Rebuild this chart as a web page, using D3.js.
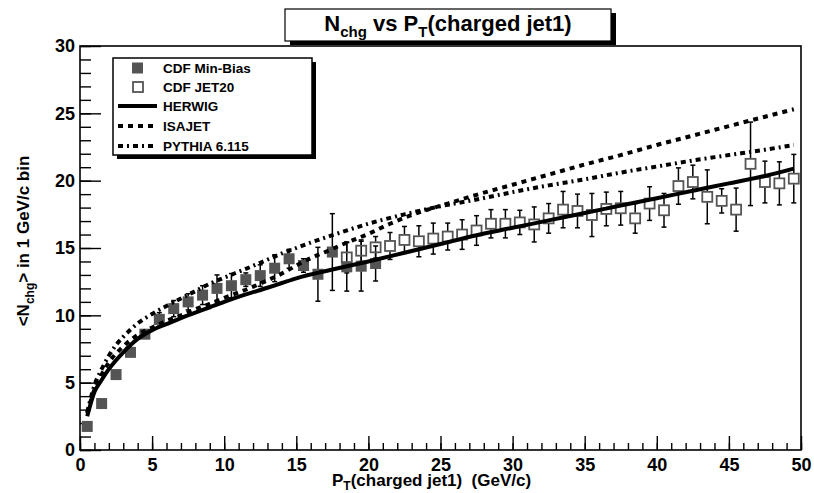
<!DOCTYPE html>
<html>
<head>
<meta charset="utf-8">
<script src="https://cdn.jsdelivr.net/npm/d3@7"></script>
<style>
  body { margin: 0; background: #fff; }
  text { font-family: "Liberation Sans", Arial, Helvetica, sans-serif; font-weight: bold; }
</style>
</head>
<body>
<div id="chart"></div>
<script>
// CDF Min-Bias (filled squares)
var mbX   = [0.5, 1.5, 2.5, 3.5, 4.5, 5.5, 6.5, 7.5, 8.5, 9.5, 10.5, 11.5, 12.5, 13.5, 14.5, 15.5, 16.5, 17.5, 18.5, 19.5, 20.5];
var mbY   = [1.75, 3.45, 5.6, 7.25, 8.6, 9.7, 10.5, 11.0, 11.5, 12.0, 12.2, 12.65, 12.95, 13.5, 14.2, 13.7, 13.05, 14.7, 13.6, 13.65, 13.85];
var mbErr = [0.1, 0.15, 0.2, 0.2, 0.3, 0.5, 0.6, 0.6, 0.7, 1.0, 0.9, 0.5, 0.8, 1.0, 0.7, 0.5, 2.0, 2.85, 1.8, 1.85, 1.3];

// CDF JET20 (open squares)
var jetX   = [18.5, 19.5, 20.5, 21.5, 22.5, 23.5, 24.5, 25.5, 26.5, 27.5, 28.5, 29.5, 30.5, 31.5, 32.5, 33.5,
              34.5, 35.5, 36.5, 37.5, 38.5, 39.5, 40.5, 41.5, 42.5, 43.5, 44.5, 45.5, 46.5, 47.5, 48.5, 49.5];
var jetY   = [14.3, 14.8, 15.05, 15.15, 15.6, 15.5, 15.7, 15.85, 16.0, 16.3, 16.8, 16.8, 16.9, 16.75, 17.2, 17.85,
              17.75, 17.45, 17.9, 17.95, 17.2, 18.3, 17.8, 19.6, 19.9, 18.8, 18.5, 17.85, 21.25, 19.9, 19.8, 20.15];
var jetErr = [1.15, 0.8, 0.8, 1.0, 1.0, 1.15, 1.15, 1.0, 1.1, 1.1, 1.05, 1.05, 0.9, 1.3, 1.1, 1.35,
              1.25, 1.6, 1.25, 1.25, 1.1, 1.25, 1.25, 1.35, 1.25, 2.0, 0.9, 1.6, 3.1, 1.55, 1.6, 1.8];

// Monte Carlo curves
var herwigX = [0.5, 1, 1.5, 2, 3, 4, 5, 6, 7, 8, 9, 10, 11.5, 13, 14, 15, 17.5, 20, 22.5, 25, 27.5, 30, 32.5, 35, 37.5, 40, 42.5, 45, 47.5, 49.5];
var herwigY = [2.5, 4.3, 5.2, 6.0, 7.25, 8.25, 8.9, 9.35, 9.8, 10.2, 10.6, 11.0, 11.55, 12.05, 12.4, 12.75, 13.4, 14.0, 14.65, 15.3, 15.95, 16.5, 17.05, 17.6, 18.15, 18.7, 19.25, 19.8, 20.35, 20.9];

var isajetX = [0.5, 1, 1.5, 2, 3, 4, 5, 6, 7, 8, 9, 10, 11.5, 13, 14, 15, 16, 17, 18.5, 20, 21.5, 23, 25.5, 27.5, 30, 32.5, 35, 37.5, 40, 42.5, 45, 47.5, 49.5];
var isajetY = [2.7, 4.5, 5.6, 6.5, 7.7, 8.55, 9.1, 9.6, 10.0, 10.45, 10.85, 11.3, 11.9, 12.6, 13.1, 13.7, 14.25, 14.7, 15.4, 16.05, 16.8, 17.45, 18.3, 18.95, 19.7, 20.45, 21.2, 21.9, 22.65, 23.35, 24.05, 24.75, 25.3];

var pythiaX = [0.5, 1, 1.5, 2, 2.5, 3, 4, 5, 6, 7, 8, 9, 10, 11.5, 12.5, 14, 15, 16, 17.5, 20, 22.5, 25, 27.5, 30, 32.5, 35, 37.5, 40, 42.5, 45, 47.5, 49.5];
var pythiaY = [2.8, 4.8, 6.0, 7.0, 7.8, 8.4, 9.4, 10.1, 10.7, 11.25, 11.8, 12.35, 12.8, 13.45, 13.9, 14.6, 15.0, 15.4, 15.95, 16.8, 17.5, 18.1, 18.6, 19.15, 19.65, 20.1, 20.6, 21.05, 21.5, 21.9, 22.3, 22.65];

var xTicks = [0, 5, 10, 15, 20, 25, 30, 35, 40, 45, 50];
var yTicks = [0, 5, 10, 15, 20, 25, 30];

var W = 814, H = 493;
var frame = {left: 80, right: 801, top: 46, bottom: 450};

var svg = d3.select("#chart").append("svg")
	.attr("width", W)
	.attr("height", H);

var x = d3.scaleLinear().domain([0, 50]).range([frame.left, frame.right]);
var y = d3.scaleLinear().domain([0, 30]).range([frame.bottom, frame.top]);

// frame
svg.append("rect")
	.attr("x", frame.left).attr("y", frame.top)
	.attr("width", frame.right - frame.left).attr("height", frame.bottom - frame.top)
	.style("fill", "none").style("stroke", "#000").style("stroke-width", 1.6);

// axes: minor ticks then major ticks with labels
svg.append("g")
	.attr("transform", "translate(0," + frame.bottom + ")")
	.call(d3.axisBottom(x).tickValues(d3.range(0, 51, 1)).tickSize(-7).tickFormat(""))
	.call(g => g.select(".domain").remove());
svg.append("g")
	.attr("class", "xaxis")
	.attr("transform", "translate(0," + frame.bottom + ")")
	.call(d3.axisBottom(x).tickValues(xTicks).tickSize(-14).tickPadding(8).tickFormat(d3.format("d")))
	.call(g => g.select(".domain").remove());

svg.append("g")
	.attr("transform", "translate(" + frame.left + ",0)")
	.call(d3.axisLeft(y).tickValues(d3.range(0, 31, 1)).tickSize(-11).tickFormat(""))
	.call(g => g.select(".domain").remove());
svg.append("g")
	.attr("class", "yaxis")
	.attr("transform", "translate(" + frame.left + ",0)")
	.call(d3.axisLeft(y).tickValues(yTicks).tickSize(-21).tickPadding(5).tickFormat(d3.format("d")))
	.call(g => g.select(".domain").remove());

svg.selectAll(".tick line").style("stroke", "#000").style("stroke-width", 1.4);
svg.selectAll(".xaxis text, .yaxis text")
	.style("font-family", "'Liberation Sans', Arial, sans-serif")
	.style("font-weight", "bold")
	.style("font-size", "18px")
	.attr("fill", "#000");

// axis titles
var xt = svg.append("text")
	.attr("x", 332).attr("y", 486)
	.style("font-size", "17px")
	.attr("xml:space", "preserve");
xt.append("tspan").text("P");
xt.append("tspan").attr("dy", 4).style("font-size", "12px").text("T");
xt.append("tspan").attr("dy", -4).text("(charged jet1)  (GeV/c)");

var yt = svg.append("text")
	.attr("transform", "translate(29,241) rotate(-90)")
	.attr("text-anchor", "middle")
	.style("font-size", "17px");
yt.append("tspan").text("<N");
yt.append("tspan").attr("dy", 5).style("font-size", "12px").text("chg");
yt.append("tspan").attr("dy", -5).text("> in 1 GeV/c bin");

// error bars
var cap = 2.5;
function errorBars(cls, xs, ys, es, half) {
	var pts = xs.map(function(d, i) { return {x: d, y: ys[i], e: es[i]}; });
	var g = svg.append("g").attr("class", cls);
	pts.forEach(function(p) {
		var cx = x(p.x), top = y(p.y + p.e), bot = y(p.y - p.e), cy = y(p.y);
		if (top < cy - half) {
			g.append("line").attr("x1", cx).attr("x2", cx).attr("y1", top).attr("y2", cy - half);
			g.append("line").attr("x1", cx - cap).attr("x2", cx + cap).attr("y1", top).attr("y2", top);
		}
		if (bot > cy + half) {
			g.append("line").attr("x1", cx).attr("x2", cx).attr("y1", cy + half).attr("y2", bot);
			g.append("line").attr("x1", cx - cap).attr("x2", cx + cap).attr("y1", bot).attr("y2", bot);
		}
	});
	g.selectAll("line").style("stroke", "#000").style("stroke-width", 1.5);
}
errorBars("mbErr", mbX, mbY, mbErr, 5);
errorBars("jetErr", jetX, jetY, jetErr, 5.5);

// markers
svg.append("g").selectAll("rect")
	.data(mbX.map(function(d, i) { return [d, mbY[i]]; }))
	.enter().append("rect")
	.attr("x", function(d) { return x(d[0]) - 5.5; })
	.attr("y", function(d) { return y(d[1]) - 5.5; })
	.attr("width", 11).attr("height", 11)
	.style("fill", "#545454");

svg.append("g").selectAll("rect")
	.data(jetX.map(function(d, i) { return [d, jetY[i]]; }))
	.enter().append("rect")
	.attr("x", function(d) { return x(d[0]) - 5; })
	.attr("y", function(d) { return y(d[1]) - 5; })
	.attr("width", 10).attr("height", 10)
	.style("fill", "none").style("stroke", "#555").style("stroke-width", 1.8);

// curves
var line = d3.line()
	.x(function(d) { return x(d[0]); })
	.y(function(d) { return y(d[1]); })
	.curve(d3.curveMonotoneX);

function curve(xs, ys, dash) {
	svg.append("path")
		.datum(xs.map(function(d, i) { return [d, ys[i]]; }))
		.attr("d", line)
		.style("fill", "none")
		.style("stroke", "#000")
		.style("stroke-width", 4)
		.style("stroke-dasharray", dash);
}
var dashIsajet = "5,5";
var dashPythia = "5,4,2,4";
curve(herwigX, herwigY, null);
curve(isajetX, isajetY, dashIsajet);
curve(pythiaX, pythiaY, dashPythia);

// legend
var lg = {x: 113, y: 58, w: 199, h: 97};
svg.append("rect").attr("x", lg.x + 4).attr("y", lg.y + 4).attr("width", lg.w).attr("height", lg.h).style("fill", "#000");
svg.append("rect").attr("x", lg.x).attr("y", lg.y).attr("width", lg.w).attr("height", lg.h)
	.style("fill", "#fff").style("stroke", "#000").style("stroke-width", 1.5);

var legendNames = ["CDF Min-Bias", "CDF JET20", "HERWIG", "ISAJET", "PYTHIA 6.115"];
var legendRows = [68, 87, 106, 126, 146];
legendNames.forEach(function(name, i) {
	var ry = legendRows[i];
	if (i === 0) {
		svg.append("rect").attr("x", 132).attr("y", ry - 5.5).attr("width", 11).attr("height", 11).style("fill", "#545454");
	} else if (i === 1) {
		svg.append("rect").attr("x", 133).attr("y", ry - 5).attr("width", 10).attr("height", 10)
			.style("fill", "none").style("stroke", "#555").style("stroke-width", 1.8);
	} else {
		svg.append("line").attr("x1", 118).attr("x2", 157).attr("y1", ry).attr("y2", ry)
			.style("stroke", "#000").style("stroke-width", 4)
			.style("stroke-dasharray", i === 2 ? null : (i === 3 ? dashIsajet : dashPythia));
	}
	svg.append("text").attr("x", 163).attr("y", ry).attr("dy", "0.36em")
		.style("font-size", "13.5px").text(name);
});

// title box
var tb = {x: 285, y: 9, w: 326, h: 32};
svg.append("rect").attr("x", tb.x + 5).attr("y", tb.y + 4).attr("width", tb.w).attr("height", tb.h).style("fill", "#000");
svg.append("rect").attr("x", tb.x).attr("y", tb.y).attr("width", tb.w).attr("height", tb.h)
	.style("fill", "#fff").style("stroke", "#000").style("stroke-width", 1.2);
var tt = svg.append("text").attr("x", tb.x + tb.w / 2).attr("y", 31)
	.attr("text-anchor", "middle").style("font-size", "22px");
tt.append("tspan").text("N");
tt.append("tspan").attr("dy", 6).style("font-size", "15px").text("chg");
tt.append("tspan").attr("dy", -6).text(" vs P");
tt.append("tspan").attr("dy", 6).style("font-size", "15px").text("T");
tt.append("tspan").attr("dy", -6).text("(charged jet1)");
</script>
</body>
</html>
